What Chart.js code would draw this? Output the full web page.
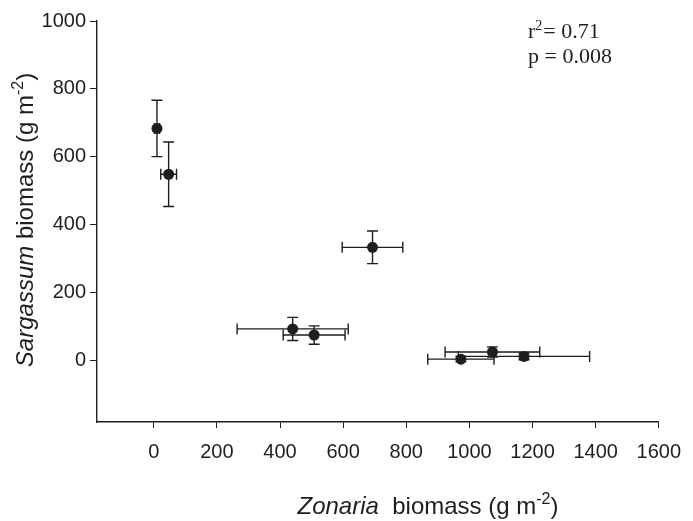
<!DOCTYPE html>
<html>
<head>
<meta charset="utf-8">
<script src="https://cdn.jsdelivr.net/npm/chart.js@4"></script>
<style>
  body { margin: 0; background: #fff; }
  #wrap { width: 693px; height: 521px; }
</style>
</head>
<body>
<div id="wrap"><canvas id="myChart"></canvas></div>
<script>
// values
var zonaria = [10, 47, 693, 440, 508, 973, 1073, 1173];
var zonariaErr = [8, 25, 96, 176, 98, 105, 150, 208];
var sargassum = [684, 549, 334, 94, 76, 5, 26, 13];
var sargassumErr = [83, 95, 48, 34, 27, 8, 15, 10];
var xTicks = [0, 200, 400, 600, 800, 1000, 1200, 1400, 1600];
var yTicks = [0, 200, 400, 600, 800, 1000];
var statsText = ["r", "= 0.71", "p = 0.008"];

var ink = '#1e1e1e';

var points = zonaria.map(function (x, i) {
    return { x: x, y: sargassum[i] };
});

// error bars, drawn through the chart scales
var errorBars = {
    id: 'errorBars',
    beforeDatasetsDraw: function (chart) {
        var c = chart.ctx, xs = chart.scales.x, ys = chart.scales.y;
        var cap = 5.5;
        c.save();
        c.strokeStyle = ink;
        c.lineWidth = 1.4;
        zonaria.forEach(function (x, i) {
            var px = xs.getPixelForValue(x), py = ys.getPixelForValue(sargassum[i]);
            var x1 = xs.getPixelForValue(x - zonariaErr[i]), x2 = xs.getPixelForValue(x + zonariaErr[i]);
            var y1 = ys.getPixelForValue(sargassum[i] + sargassumErr[i]), y2 = ys.getPixelForValue(sargassum[i] - sargassumErr[i]);
            c.beginPath();
            c.moveTo(x1, py); c.lineTo(x2, py);
            c.moveTo(x1, py - cap); c.lineTo(x1, py + cap);
            c.moveTo(x2, py - cap); c.lineTo(x2, py + cap);
            c.moveTo(px, y1); c.lineTo(px, y2);
            c.moveTo(px - cap, y1); c.lineTo(px + cap, y1);
            c.moveTo(px - cap, y2); c.lineTo(px + cap, y2);
            c.stroke();
        });
        c.restore();
    }
};

// axis titles with italic genus names and superscripts, plus the stats text
function drawParts(c, parts, x, y) {
    var total = 0;
    parts.forEach(function (p) { c.font = p.font; total += c.measureText(p.t).width; });
    var cx = x - total / 2;
    parts.forEach(function (p) {
        c.font = p.font;
        c.fillText(p.t, cx, y + (p.dy || 0));
        cx += c.measureText(p.t).width;
    });
}

var titles = {
    id: 'titles',
    afterDraw: function (chart) {
        var c = chart.ctx;
        var norm = '24px "Liberation Sans", Arial, sans-serif';
        var ital = 'italic 24px "Liberation Sans", Arial, sans-serif';
        var sup = '16px "Liberation Sans", Arial, sans-serif';
        c.save();
        c.fillStyle = ink;
        c.textBaseline = 'alphabetic';
        c.textAlign = 'left';
        drawParts(c, [
            { t: 'Zonaria', font: ital },
            { t: '  biomass (g m', font: norm },
            { t: '-2', font: sup, dy: -10 },
            { t: ')', font: norm }
        ], 428, 514);

        c.save();
        c.translate(33, 220);
        c.rotate(-Math.PI / 2);
        drawParts(c, [
            { t: 'Sargassum', font: ital },
            { t: ' biomass (g m', font: norm },
            { t: '-2', font: sup, dy: -10 },
            { t: ')', font: norm }
        ], 0, 0);
        c.restore();

        var serif = '22px "Liberation Serif", "Times New Roman", serif';
        c.font = serif;
        c.fillText(statsText[0], 528, 38);
        var w = c.measureText(statsText[0]).width;
        c.font = '14px "Liberation Serif", serif';
        c.fillText('2', 528 + w, 30);
        var w2 = c.measureText('2').width;
        c.font = serif;
        c.fillText(statsText[1], 528 + w + w2 + 1, 38);
        c.fillText(statsText[2], 528, 63);
        c.restore();
    }
};

var tickFont = { family: '"Liberation Sans", Arial, sans-serif', size: 20 };

var ctx = document.getElementById('myChart').getContext('2d');
var myChart = new Chart(ctx, {
    type: 'scatter',
    data: {
        datasets: [{
            data: points,
            backgroundColor: ink,
            borderColor: ink,
            pointRadius: 5.5,
            pointHoverRadius: 5.5,
            borderWidth: 0
        }]
    },
    options: {
        responsive: true,
        maintainAspectRatio: false,
        animation: false,
        layout: { padding: { left: 0, right: 33, top: 21, bottom: 0 } },
        plugins: {
            legend: { display: false },
            tooltip: { enabled: false }
        },
        scales: {
            x: {
                min: -180,
                max: 1600,
                afterBuildTicks: function (s) { s.ticks = xTicks.map(function (v) { return { value: v }; }); },
                afterFit: function (s) { s.height = 99; },
                grid: { drawOnChartArea: false, drawTicks: true, tickLength: 6, color: ink },
                border: { display: true, color: ink, width: 1.4 },
                ticks: { color: ink, font: tickFont, padding: 12, maxRotation: 0, autoSkip: false,
                         callback: function (v) { return String(v); } }
            },
            y: {
                min: -180,
                max: 1000,
                afterBuildTicks: function (s) { s.ticks = yTicks.map(function (v) { return { value: v }; }); },
                afterFit: function (s) { s.width = 97; },
                grid: { drawOnChartArea: false, drawTicks: true, tickLength: 7, color: ink },
                border: { display: true, color: ink, width: 1.4 },
                ticks: { color: ink, font: tickFont, padding: 4, autoSkip: false,
                         callback: function (v) { return String(v); } }
            }
        }
    },
    plugins: [errorBars, titles]
});
</script>
</body>
</html>
